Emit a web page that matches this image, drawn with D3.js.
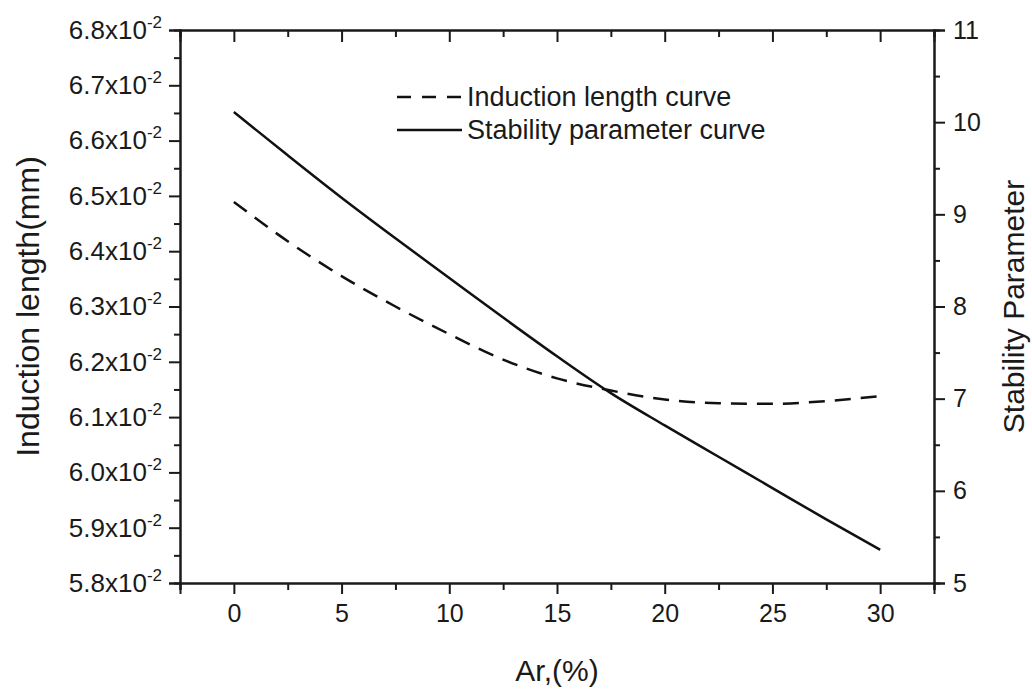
<!DOCTYPE html>
<html>
<head>
<meta charset="utf-8">
<script src="https://cdn.jsdelivr.net/npm/d3@7"></script>
<style>
  body { margin: 0; background: #fff; }
  svg text { font-family: "Liberation Sans", Arial, sans-serif; fill: #1a1a1a; }
</style>
</head>
<body>
<script>
// Ar content (%)
const arValues = [0, 2.5, 5, 7.5, 10, 12.5, 15, 17.5, 20, 22.5, 25, 27.5, 30];
// induction length (mm)
const inductionLength = [0.06489, 0.06418, 0.06355, 0.063, 0.0625, 0.06204, 0.0617, 0.06148, 0.06132, 0.06125, 0.06124, 0.06129, 0.06138];
// stability parameter
const stabilityParam = [10.11, 9.64, 9.18, 8.74, 8.31, 7.88, 7.46, 7.06, 6.71, 6.37, 6.03, 5.69, 5.36];

const xTicks = [0, 5, 10, 15, 20, 25, 30];
const leftTicks = [0.058, 0.059, 0.06, 0.061, 0.062, 0.063, 0.064, 0.065, 0.066, 0.067, 0.068];
const rightTicks = [5, 6, 7, 8, 9, 10, 11];
const legendLabels = ["Induction length curve", "Stability parameter curve"];

const w = 1032;
const h = 690;
const pLeft = 180, pRight = 934, pTop = 30, pBottom = 583;

const svg = d3.select("body").append("svg").attr("width", w).attr("height", h);

const xScale = d3.scaleLinear().domain([-2.5, 32.5]).range([pLeft, pRight]);
const yLeft = d3.scaleLinear().domain([0.058, 0.068]).range([pBottom, pTop]);
const yRight = d3.scaleLinear().domain([5, 11]).range([pBottom, pTop]);

const minor = (ticks) => ticks.slice(0, -1).map((d, i) => (d + ticks[i + 1]) / 2);

function styleAxis(g) {
  g.select(".domain").attr("stroke", "#1a1a1a").attr("stroke-width", 2);
  g.selectAll(".tick line").attr("stroke", "#1a1a1a").attr("stroke-width", 2);
  g.selectAll(".tick text").attr("font-size", 25).attr("fill", "#1a1a1a");
}

// minor ticks first
svg.append("g")
  .attr("transform", `translate(0,${pBottom})`)
  .call(d3.axisBottom(xScale).tickValues(minor([-5].concat(xTicks, [35]))).tickSize(7).tickFormat(""))
  .call(styleAxis);
svg.append("g")
  .attr("transform", `translate(0,${pTop})`)
  .call(d3.axisTop(xScale).tickValues(minor([-5].concat(xTicks, [35]))).tickSize(-7).tickFormat(""))
  .call(styleAxis);
svg.append("g")
  .attr("transform", `translate(${pLeft},0)`)
  .call(d3.axisLeft(yLeft).tickValues(minor(leftTicks)).tickSize(6).tickFormat(""))
  .call(styleAxis);
svg.append("g")
  .attr("transform", `translate(${pRight},0)`)
  .call(d3.axisRight(yRight).tickValues(minor(rightTicks)).tickSize(6).tickFormat(""))
  .call(styleAxis);

// major axes
svg.append("g")
  .attr("id", "x-axis")
  .attr("transform", `translate(0,${pBottom})`)
  .call(d3.axisBottom(xScale).tickValues(xTicks).tickSize(11).tickPadding(10))
  .call(styleAxis);
svg.append("g")
  .attr("transform", `translate(0,${pTop})`)
  .call(d3.axisTop(xScale).tickValues(xTicks).tickSize(-12).tickFormat(""))
  .call(styleAxis);

const gl = svg.append("g")
  .attr("id", "y-axis")
  .attr("transform", `translate(${pLeft},0)`)
  .call(d3.axisLeft(yLeft).tickValues(leftTicks).tickSize(11).tickPadding(7))
  .call(styleAxis);
gl.selectAll(".tick text").each(function (d) {
  const t = d3.select(this).text("").attr("font-size", 26);
  t.append("tspan").text((d * 100).toFixed(1) + "x10");
  t.append("tspan").attr("dy", -11).attr("font-size", 17).text("-2");
});

svg.append("g")
  .attr("transform", `translate(${pRight},0)`)
  .call(d3.axisRight(yRight).tickValues(rightTicks).tickSize(11).tickPadding(8).tickFormat(d3.format("d")))
  .call(styleAxis);

// axis titles
svg.append("text")
  .attr("x", (pLeft + pRight) / 2)
  .attr("y", 681)
  .attr("text-anchor", "middle")
  .attr("font-size", 30)
  .text("Ar,(%)");
svg.append("text")
  .attr("transform", `translate(39,${(pTop + pBottom) / 2}) rotate(-90)`)
  .attr("text-anchor", "middle")
  .attr("font-size", 32)
  .text("Induction length(mm)");
svg.append("text")
  .attr("transform", `translate(1024,${(pTop + pBottom) / 2}) rotate(-90)`)
  .attr("text-anchor", "middle")
  .attr("font-size", 30)
  .text("Stability Parameter");

// curves
const lineLeft = d3.line()
  .x((d, i) => xScale(arValues[i]))
  .y((d) => yLeft(d))
  .curve(d3.curveMonotoneX);
const lineRight = d3.line()
  .x((d, i) => xScale(arValues[i]))
  .y((d) => yRight(d))
  .curve(d3.curveMonotoneX);

svg.append("path")
  .datum(inductionLength)
  .attr("d", lineLeft)
  .attr("fill", "none")
  .attr("stroke", "#111")
  .attr("stroke-width", 2.5)
  .attr("stroke-dasharray", "16,10");
svg.append("path")
  .datum(stabilityParam)
  .attr("d", lineRight)
  .attr("fill", "none")
  .attr("stroke", "#111")
  .attr("stroke-width", 2.5);

// legend
const legend = svg.append("g").attr("transform", "translate(397,97)");
legendLabels.forEach((label, i) => {
  legend.append("line")
    .attr("x1", 0).attr("x2", 65)
    .attr("y1", i * 33).attr("y2", i * 33)
    .attr("stroke", "#111")
    .attr("stroke-width", 2.5)
    .attr("stroke-dasharray", i === 0 ? "14,11" : null);
  legend.append("text")
    .attr("x", 70)
    .attr("y", i * 33)
    .attr("dy", "0.35em")
    .attr("font-size", 27)
    .text(label);
});
</script>
</body>
</html>
